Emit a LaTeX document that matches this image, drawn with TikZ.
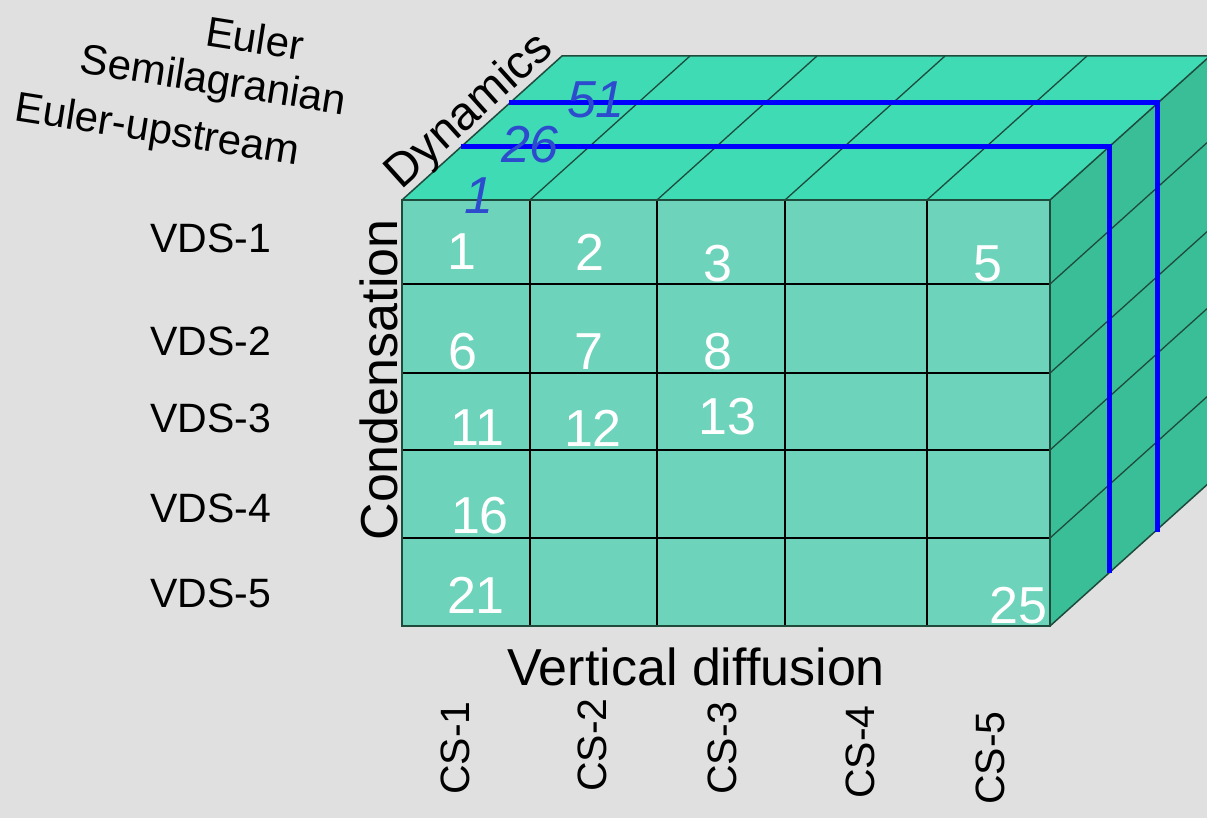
\documentclass[tikz,border=0pt]{standalone}
\usepackage{fontspec}
\setmainfont{Liberation Sans}
\usepackage{xcolor}

\definecolor{bg}{RGB}{224,224,224}
\definecolor{topface}{RGB}{62,219,180}
\definecolor{frontface}{RGB}{110,211,187}
\definecolor{sideface}{RGB}{58,190,152}
\definecolor{edge}{RGB}{30,75,60}
\definecolor{slice}{RGB}{0,0,255}
\definecolor{slicetxt}{RGB}{45,75,205}

\begin{document}
\begin{tikzpicture}[x=1pt,y=-1pt, inner sep=1pt,
        axislbl/.style={font=\fontsize{52}{52}\selectfont},
        rowlbl/.style={font=\fontsize{41}{41}\selectfont},
        cell/.style={text=white,font=\fontsize{52}{52}\selectfont},
        layer/.style={text=slicetxt,font=\fontsize{52}{52}\selectfont\itshape}]
            % Page
            \clip (0,0) rectangle (1207,818);
            \fill[bg] (0,0) rectangle (1207,818);

            % Faces of the box
            \fill[topface] (402,200) -- (562,56) -- (1210,56) -- (1050,200) -- cycle;
            \fill[sideface] (1050,200) -- (1210,56) -- (1210,482) -- (1050,626) -- cycle;
            \fill[frontface] (402,200) rectangle (1050,626);

            % Front grid
            \draw[line width=1.5pt] (530,200) -- (530,626);
            \draw[line width=1.5pt] (657,200) -- (657,626);
            \draw[line width=1.5pt] (785,200) -- (785,626);
            \draw[line width=1.5pt] (927,200) -- (927,626);
            \draw[line width=1.5pt] (402,284) -- (1050,284);
            \draw[line width=1.5pt] (402,373) -- (1050,373);
            \draw[line width=1.5pt] (402,450) -- (1050,450);
            \draw[line width=1.5pt] (402,538) -- (1050,538);

            % Top and side grid
            \draw[edge, line width=1.3pt] (530,200) -- (690,56);
            \draw[edge, line width=1.3pt] (657,200) -- (817,56);
            \draw[edge, line width=1.3pt] (785,200) -- (945,56);
            \draw[edge, line width=1.3pt] (927,200) -- (1087,56);
            \draw[edge, line width=1.3pt] (1050,284) -- (1210,140);
            \draw[edge, line width=1.3pt] (1050,373) -- (1210,229);
            \draw[edge, line width=1.3pt] (1050,450) -- (1210,306);
            \draw[edge, line width=1.3pt] (1050,538) -- (1210,394);

            % Box edges
            \draw[edge, line width=1.5pt] (402,200) rectangle (1050,626);
            \draw[edge, line width=1.5pt] (402,200) -- (562,56) -- (1210,56);
            \draw[edge, line width=1.5pt] (1050,200) -- (1210,56);
            \draw[edge, line width=1.5pt] (1050,626) -- (1210,482);

            % Dynamics slices
            \draw[slice, line width=5pt] (461,147) -- (1109,147) -- (1109,573);
            \draw[slice, line width=5pt] (509,103) -- (1157,103) -- (1157,532);

            % Cell numbers
            \node[cell] (c1) at (462,252) {1};
            \node[cell] (c2) at (590,252) {2};
            \node[cell] (c3) at (718,264) {3};
            \node[cell] (c5) at (988,264) {5};
            \node[cell] (c6) at (463,352) {6};
            \node[cell] (c7) at (589,352) {7};
            \node[cell] (c8) at (718,352) {8};
            \node[cell] (c11) at (477,428) {11};
            \node[cell] (c12) at (593,428) {12};
            \node[cell] (c13) at (727,417) {13};
            \node[cell] (c16) at (480,516) {16};
            \node[cell] (c21) at (476,595) {21};
            \node[cell] (c25) at (1018,606) {25};

            % Slice numbers
            \node[layer] (l1) at (479,196) {1};
            \node[layer] (l26) at (530,145) {26};
            \node[layer] (l51) at (596,100) {51};

            % Axis titles
            \node[axislbl, rotate=42, font=\fontsize{47}{47}\selectfont] (dyn) at (470,112) {Dynamics};
            \node[axislbl, rotate=90] (cond) at (379,380) {Condensation};
            \node[axislbl] (vdiff) at (696,667) {Vertical diffusion};

            % Dynamics schemes
            \node[rowlbl, rotate=-9, font=\fontsize{42}{42}\selectfont] (eul) at (255,38) {Euler};
            \node[rowlbl, rotate=-9, font=\fontsize{42}{42}\selectfont] (semi) at (213,83) {Semilagranian};
            \node[rowlbl, rotate=-9, font=\fontsize{42}{42}\selectfont] (eulup) at (157,132) {Euler-upstream};

            % Condensation schemes
            \node[rowlbl] (vds1) at (211,238) {VDS-1};
            \node[rowlbl] (vds2) at (211,341) {VDS-2};
            \node[rowlbl] (vds3) at (211,418) {VDS-3};
            \node[rowlbl] (vds4) at (211,508) {VDS-4};
            \node[rowlbl] (vds5) at (211,593) {VDS-5};

            % Vertical diffusion schemes
            \node[rowlbl, rotate=90] (cs1) at (455,748) {CS-1};
            \node[rowlbl, rotate=90] (cs2) at (592,745) {CS-2};
            \node[rowlbl, rotate=90] (cs3) at (722,748) {CS-3};
            \node[rowlbl, rotate=90] (cs4) at (860,752) {CS-4};
            \node[rowlbl, rotate=90] (cs5) at (990,758) {CS-5};
        \end{tikzpicture}
\end{document}
